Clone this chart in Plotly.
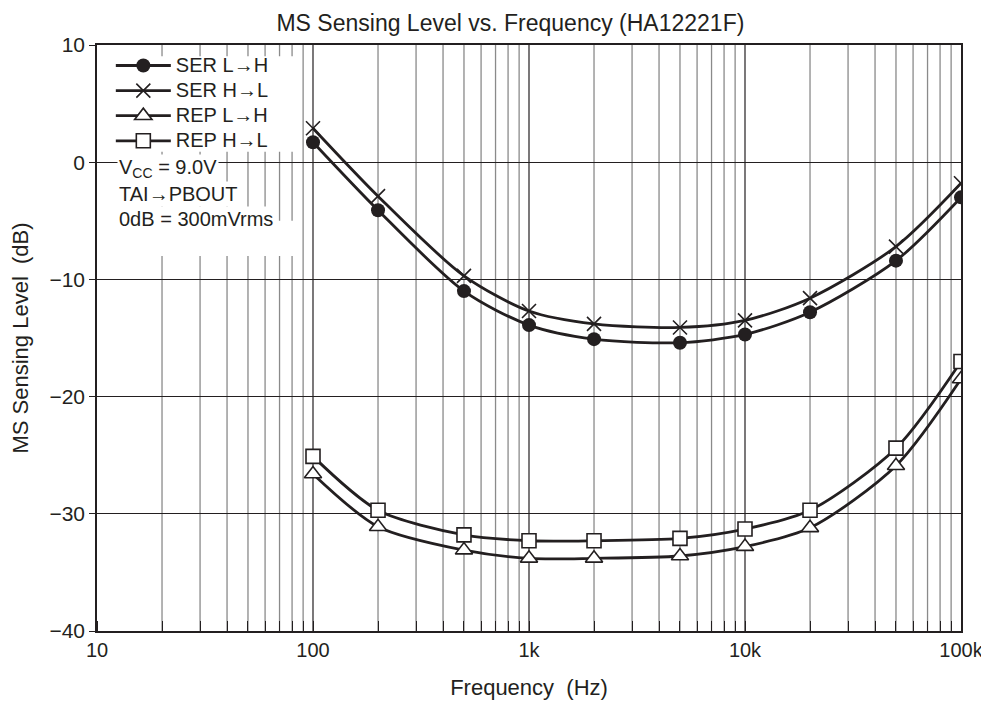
import plotly.graph_objects as go

# frequency points (Hz)
freq = [100, 200, 500, 1000, 2000, 5000, 10000, 20000, 50000, 100000]

# MS sensing level (dB)
ser_lh = [1.7, -4.1, -11.0, -13.9, -15.1, -15.4, -14.7, -12.8, -8.4, -3.0]
ser_hl = [2.9, -2.9, -9.7, -12.7, -13.8, -14.1, -13.5, -11.6, -7.2, -1.8]
rep_lh = [-26.6, -31.1, -33.1, -33.8, -33.8, -33.6, -32.8, -31.2, -25.9, -18.5]
rep_hl = [-25.1, -29.7, -31.8, -32.3, -32.3, -32.1, -31.3, -29.7, -24.4, -17.0]

y_ticks = [10, 0, -10, -20, -30, -40]
x_ticks = [10, 100, 1000, 10000, 100000]
x_labels = ["10", "100", "1k", "10k", "100k"]

notes = ["V<sub>CC</sub> = 9.0V", "TAI\u2192PBOUT", "0dB = 300mVrms"]
note_y = [0.789, 0.746, 0.703]

INK = "#231f20"
FONT = "Liberation Sans, Arial, sans-serif"

fig = go.Figure()

series = [
    ("SER L\u2192H", ser_lh, dict(symbol="circle", size=14, color=INK)),
    ("SER H\u2192L", ser_hl, dict(symbol="x-thin", size=14, color=INK,
                                  line=dict(width=1.6, color=INK))),
    ("REP L\u2192H", rep_lh, dict(symbol="triangle-up", size=15, color="white",
                                  line=dict(width=1.6, color=INK))),
    ("REP H\u2192L", rep_hl, dict(symbol="square", size=14, color="white",
                                  line=dict(width=1.6, color=INK))),
]
for name, vals, mk in series:
    fig.add_trace(go.Scatter(
        x=freq, y=vals, mode="lines+markers",
        name="<span style='font-size:20px'>%s</span>" % name,
        line=dict(color=INK, width=2.8, shape="spline", smoothing=0.8),
        marker=mk,
    ))

# grid: gray minor lines in every decade, black decade lines
for dec in [10, 100, 1000, 10000]:
    for m in range(2, 10):
        fig.add_vline(x=dec * m, line=dict(color="#8a8a8a", width=1.3), layer="below")
for dec in [100, 1000, 10000]:
    fig.add_vline(x=dec, line=dict(color=INK, width=1.2), layer="below")

# white patches behind the legend block and below the notes
fig.add_shape(type="rect", xref="paper", yref="paper",
              x0=0.003, x1=0.236, y0=0.818, y1=0.981,
              fillcolor="white", line=dict(width=0), layer="between")
fig.add_shape(type="rect", xref="paper", yref="paper",
              x0=0.003, x1=0.236, y0=0.640, y1=0.70,
              fillcolor="white", line=dict(width=0), layer="between")

for t, yy in zip(notes, note_y):
    fig.add_annotation(
        x=0.0235, xref="paper", y=yy, yref="paper",
        text=t, showarrow=False, xanchor="left", yanchor="middle",
        bgcolor="white", borderpad=1,
        font=dict(size=20, color=INK, family=FONT),
    )

fig.update_xaxes(
    type="log", range=[1, 5],
    tickvals=x_ticks, ticktext=x_labels,
    showgrid=False, ticks="", showline=True, linecolor=INK, linewidth=1.6,
    mirror=True,
    minor=dict(ticks="inside", ticklen=10, tickcolor=INK, tickwidth=1,
               showgrid=False, dtick="D1"),
    tickfont=dict(size=20, color=INK, family=FONT),
    title=dict(text="Frequency  (Hz)", font=dict(size=22, color=INK, family=FONT),
               standoff=20),
    zeroline=False,
)
fig.update_yaxes(
    range=[-40, 10], tickvals=y_ticks,
    showgrid=True, gridcolor=INK, gridwidth=1,
    ticks="outside", ticklen=6, tickcolor=INK,
    showline=True, linecolor=INK, linewidth=1.6, mirror=True,
    tickfont=dict(size=21, color=INK, family=FONT),
    title=dict(text="MS Sensing Level  (dB)", font=dict(size=22, color=INK, family=FONT),
               standoff=15),
    zeroline=False,
)

# page body adds ~8px offset, so margins are shifted to compensate
fig.update_layout(
    width=989, height=704,
    margin=dict(l=89, r=36, t=37, b=81),
    paper_bgcolor="white", plot_bgcolor="white",
    title=dict(text="MS Sensing Level vs. Frequency (HA12221F)",
               x=0.508, xanchor="center", y=0.99, yanchor="top",
               font=dict(size=23, color=INK, family=FONT)),
    legend=dict(x=0.016, y=0.995, xanchor="left", yanchor="top",
                bgcolor="rgba(0,0,0,0)", borderwidth=0, itemwidth=55,
                tracegroupgap=0, itemclick=False,
                font=dict(size=17, color=INK, family=FONT)),
    showlegend=True,
)

fig.write_html("out.html")
